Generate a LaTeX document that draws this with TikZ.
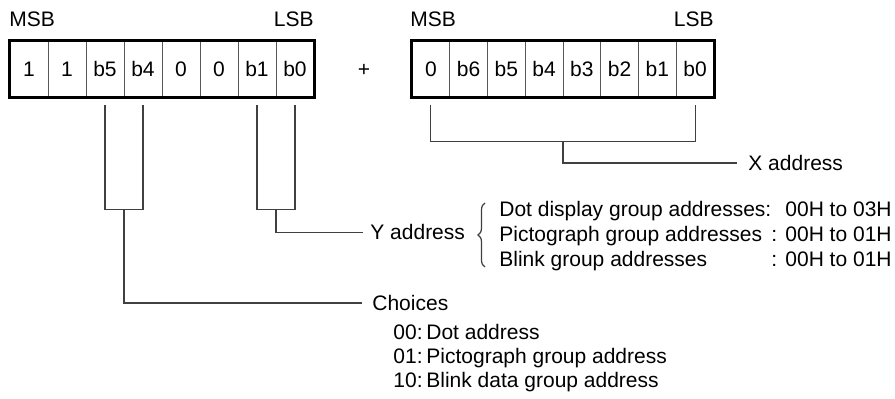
\documentclass[tikz,border=0pt]{standalone}
\usepackage{fontspec}
\setmainfont{Liberation Sans}
\usetikzlibrary{decorations.pathreplacing,calc}
\begin{document}
\begin{tikzpicture}[x=0.5pt,y=-0.5pt,
  every node/.style={font=\fontsize{10.5}{12}\selectfont, inner sep=0pt},
  cell/.style={draw=black!65, line width=0.5pt, minimum width=19pt, minimum height=28pt, anchor=center},
  conn/.style={draw=black!75, line width=0.6pt},
  frame/.style={draw=black, line width=1.3pt},
  lbl/.style={anchor=base west},
  lblr/.style={anchor=base east},
]
\useasboundingbox (0,0) rectangle (895,399);
% registers
\foreach \t [count=\i] in {1,1,b5,b4,0,0,b1,b0}
  \node[cell] (L\i) at ({10+38*(\i-0.5)},69) {\t};
\foreach \t [count=\i] in {0,b6,b5,b4,b3,b2,b1,b0}
  \node[cell, minimum width=18.875pt] (R\i) at ({412+37.75*(\i-0.5)},69) {\t};
\draw[frame] (L1.north west) rectangle (L8.south east);
\draw[frame] (R1.north west) rectangle (R8.south east);
% headers
\node[lbl] (msbL) at (9,27) {MSB};
\node[lblr] (lsbL) at (314,27) {LSB};
\node[lbl] (msbR) at (410,27) {MSB};
\node[lblr] (lsbR) at (714,27) {LSB};
\node (plus) at (364,70) {+};
% labels
\node[lbl] (xa) at (748,170.5) {X address};
\node[lbl] (ya) at (370,240) {Y address};
\node[lbl] (ch) at (372,310.5) {Choices};
\node[lbl] (y1) at (499,216.5) {Dot display group addresses:};
\node[lbl] (y2) at (499,241.5) {Pictograph group addresses};
\node[lbl] (y3) at (499,266.5) {Blink group addresses};
\node[lbl] (c2) at (771,241.5) {:};
\node[lbl] (c3) at (771,266.5) {:};
\node[lbl] (v1) at (785,216.5) {00H to 03H};
\node[lbl] (v2) at (785,241.5) {00H to 01H};
\node[lbl] (v3) at (785,266.5) {00H to 01H};
\node[lbl] (k1) at (393,340) {00:};
\node[lbl] (k2) at (393,364) {01:};
\node[lbl] (k3) at (393,388) {10:};
\node[lbl] (d1) at (426,340) {Dot address};
\node[lbl] (d2) at (426,364) {Pictograph group address};
\node[lbl] (d3) at (426,388) {Blink data group address};
% brace
\draw[conn, decorate, decoration={brace, amplitude=3.5pt}] (485,267) -- (485,203);
% X address connector
\draw[conn] ([yshift=-4pt]R1.south) -- ++(0,36) -| ([yshift=-4pt]R8.south);
\coordinate (xj) at ($(R1.south)!0.5!(R8.south)+(0,44)$);
\draw[conn] (xj) |- ([xshift=-5.5pt]xa.west);
% Y address connector
\draw[conn] ([yshift=-4pt]L7.south) -- ++(0,104) -| ([yshift=-4pt]L8.south);
\coordinate (yj) at ($(L7.south)!0.5!(L8.south)+(0,112)$);
\draw[conn] (yj) |- ([xshift=-3.5pt]ya.west);
% Choices connector
\draw[conn] ([yshift=-4pt]L3.south) -- ++(0,104) -| ([yshift=-4pt]L4.south);
\coordinate (cj) at ($(L3.south)!0.5!(L4.south)+(0,112)$);
\draw[conn] (cj) |- ([xshift=-5pt]ch.west);
\end{tikzpicture}
\end{document}
